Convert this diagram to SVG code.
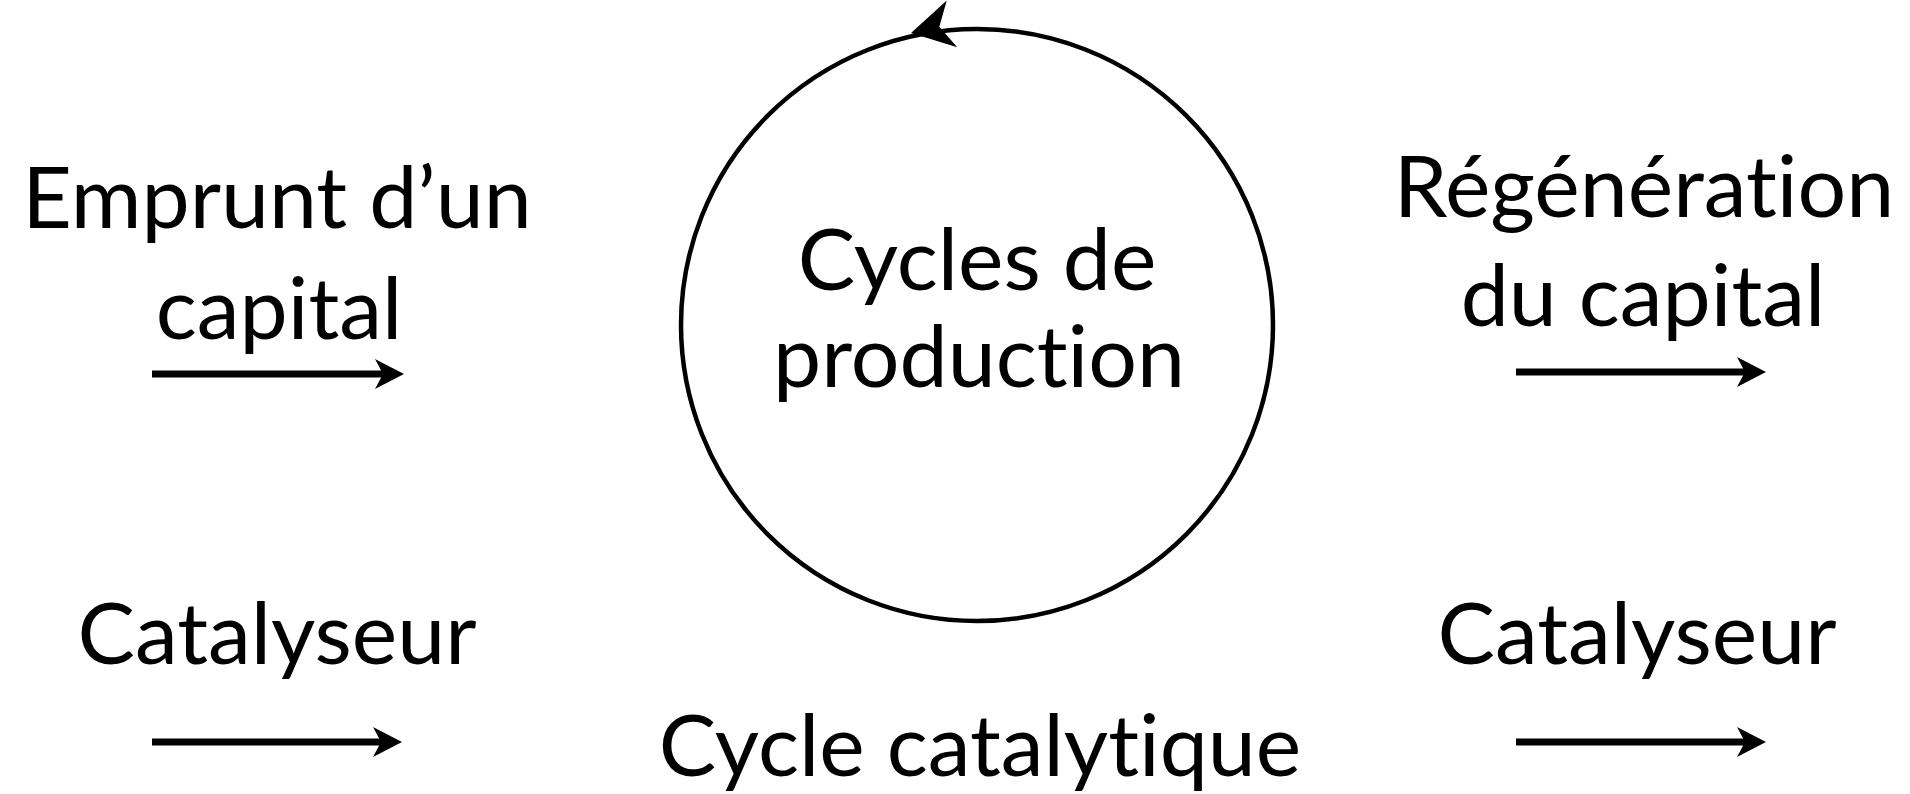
<svg xmlns="http://www.w3.org/2000/svg" width="1910" height="794" viewBox="0 0 1910 794">
  <style>
    .lbl { font-family: Lato, "Open Sans", "Liberation Sans", sans-serif; font-size: 86px; fill: #000; text-anchor: middle; font-variant-ligatures: none; font-feature-settings: "liga" 0, "clig" 0; }
    .edge { stroke: #000; stroke-width: 7; fill: none; }
    .cyc { stroke: #000; stroke-width: 4.5; fill: none; }
  </style>
  <defs>
    <marker id="ah" markerUnits="userSpaceOnUse" viewBox="-2 -17 34 34" refX="14" refY="0" markerWidth="34" markerHeight="34" orient="auto">
      <path d="M0,-15 L29,0 L0,15 L8,0 Z" fill="#000"/>
    </marker>
  </defs>
  <rect width="1910" height="794" fill="#fff"/>
  <g id="cycle-production">
    <circle class="cyc" cx="977" cy="325" r="296"/>
    <path d="M0,0 L-42,-24 L-29,0 L-42,24 Z" fill="#000" transform="translate(911,33) rotate(167.4)"/>
    <text class="lbl" x="977" y="290">Cycles de</text>
    <text class="lbl" x="979" y="387">production</text>
  </g>
  <g id="emprunt">
    <text class="lbl" x="277" y="228">Emprunt d’un</text>
    <text class="lbl" x="279" y="339">capital</text>
  </g>
  <g id="regeneration">
    <text class="lbl" x="1644" y="217">Régénération</text>
    <text class="lbl" x="1643" y="326">du capital</text>
  </g>
  <g id="catalyseur-gauche">
    <text class="lbl" x="277" y="664">Catalyseur</text>
  </g>
  <g id="catalyseur-droite">
    <text class="lbl" x="1637" y="664">Catalyseur</text>
  </g>
  <g id="cycle-catalytique">
    <text class="lbl" x="980" y="776">Cycle catalytique</text>
  </g>
  <g id="connectors">
    <line class="edge" x1="152" y1="374" x2="389" y2="374" marker-end="url(#ah)"/>
    <line class="edge" x1="1516" y1="372" x2="1751" y2="372" marker-end="url(#ah)"/>
    <line class="edge" x1="152" y1="742" x2="387" y2="742" marker-end="url(#ah)"/>
    <line class="edge" x1="1516" y1="742" x2="1751" y2="742" marker-end="url(#ah)"/>
  </g>
</svg>
